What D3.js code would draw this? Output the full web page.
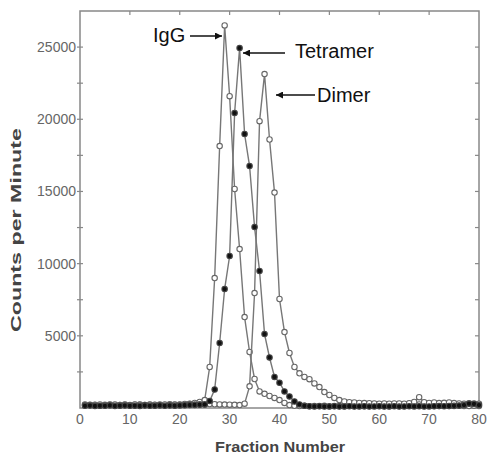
<!DOCTYPE html>
<html>
<head>
<meta charset="utf-8">
<script src="https://cdn.jsdelivr.net/npm/d3@7"></script>
<style>
  body { margin: 0; background: #fff; }
  svg { display: block; }
  .tick-label { font-family: Arial, "Liberation Sans", sans-serif; font-size: 14px; fill: #666; }
  .axis-title { font-family: Arial, "Liberation Sans", sans-serif; font-size: 14px; font-weight: bold; fill: #444; }
  .note { font-family: Arial, "Liberation Sans", sans-serif; font-size: 20px; fill: #111; }
</style>
</head>
<body>
<svg id="chart" width="489" height="454"></svg>
<script>
// fraction numbers 1..80
const fractions = d3.range(1, 81);

// counts per minute, one value per fraction
const igg = [
  250, 200, 230, 180, 220, 250, 200, 210, 240, 190,
  220, 250, 200, 230, 210, 240, 200, 260, 230, 250,
  280, 300, 350, 420, 550, 2840, 9000, 18140, 26500, 21600,
  15170, 11010, 6300, 3880, 2010, 1150, 980, 830, 700, 550,
  350, 200, 150, 130, 150, 120, 140, 130, 150, 120,
  140, 130, 120, 150, 130, 140, 120, 130, 150, 140,
  130, 120, 150, 140, 130, 150, 200, 250, 180, 150,
  140, 130, 150, 140, 130, 150, 140, 130, 150, 140
];
const tetramer = [
  150, 170, 140, 160, 150, 180, 140, 160, 170, 150,
  160, 140, 170, 150, 160, 180, 150, 170, 160, 180,
  190, 200, 210, 230, 250, 480, 1280, 4500, 8240, 10530,
  20430, 24930, 18980, 16760, 12530, 9490, 5120, 3500, 2150, 1750,
  1150, 800, 450, 250, 150, 120, 110, 120, 100, 110,
  120, 100, 110, 120, 100, 110, 120, 100, 110, 120,
  100, 110, 120, 100, 110, 120, 110, 120, 100, 110,
  120, 130, 120, 140, 150, 170, 200, 300, 280, 200
];
const dimer = [
  200, 230, 210, 250, 190, 220, 240, 200, 230, 210,
  250, 220, 200, 240, 230, 210, 250, 220, 240, 230,
  250, 270, 240, 260, 250, 270, 260, 250, 240, 230,
  220, 200, 300, 1500, 7960, 19870, 23130, 18600, 14920, 7550,
  5260, 3810, 2840, 2400, 2150, 2000, 1700, 1450, 1100, 900,
  700, 550, 450, 400, 380, 350, 340, 330, 320, 300,
  310, 300, 320, 310, 300, 330, 420, 750, 400, 350,
  380, 340, 360, 380, 340, 320, 300, 330, 310, 300
];

const yTicks = [5000, 10000, 15000, 20000, 25000];
const yMinor = [2500, 7500, 12500, 17500, 22500];
const xTicks = [0, 10, 20, 30, 40, 50, 60, 70, 80];

let svg = d3.select("#chart");
let mLeft = 80, mRight = 479, mTop = 11, mBottom = 408;

let x = d3.scaleLinear().domain([0, 80]).range([mLeft, mRight]);
let y = d3.scaleLinear().domain([0, 27500]).range([mBottom, mTop]);

// frame
svg.append("rect")
  .attr("x", mLeft).attr("y", mTop)
  .attr("width", mRight - mLeft).attr("height", mBottom - mTop)
  .attr("fill", "none").attr("stroke", "#888").attr("stroke-width", 1.5);

// left axis ticks + labels
let allY = yTicks.concat(yMinor);
svg.selectAll(".ytick").data(allY).join("line")
  .attr("class", "ytick")
  .attr("x1", mLeft - 3).attr("x2", mLeft + 3)
  .attr("y1", d => y(d)).attr("y2", d => y(d))
  .attr("stroke", "#888").attr("stroke-width", 1.2);
svg.selectAll(".ylab").data(yTicks).join("text")
  .attr("class", "tick-label ylab")
  .attr("x", mLeft - 4)
  .attr("y", d => y(d) + 5)
  .attr("text-anchor", "end")
  .text(d => d);

// right axis ticks (inward)
svg.selectAll(".rtick").data(allY).join("line")
  .attr("class", "rtick")
  .attr("x1", mRight - 4).attr("x2", mRight)
  .attr("y1", d => y(d)).attr("y2", d => y(d))
  .attr("stroke", "#888").attr("stroke-width", 1.2);

// top ticks (inward)
svg.selectAll(".ttick").data(xTicks.slice(1, -1)).join("line")
  .attr("class", "ttick")
  .attr("x1", d => x(d)).attr("x2", d => x(d))
  .attr("y1", mTop).attr("y2", mTop + 4)
  .attr("stroke", "#888").attr("stroke-width", 1.2);

// bottom labels
svg.selectAll(".xlab").data(xTicks).join("text")
  .attr("class", "tick-label xlab")
  .attr("x", d => x(d))
  .attr("y", 424)
  .attr("text-anchor", "middle")
  .text(d => d);

// axis titles
svg.append("text")
  .attr("class", "axis-title")
  .attr("x", 280).attr("y", 452)
  .attr("text-anchor", "middle")
  .attr("textLength", 130).attr("lengthAdjust", "spacingAndGlyphs")
  .text("Fraction Number");
svg.append("text")
  .attr("class", "axis-title")
  .style("font-size", "15px")
  .attr("transform", "translate(21,230) rotate(-90)")
  .attr("text-anchor", "middle")
  .attr("textLength", 204).attr("lengthAdjust", "spacingAndGlyphs")
  .text("Counts per Minute");

// series
let line = d3.line().x((d, i) => x(fractions[i])).y(d => y(d));

function drawSeries(values, filled) {
  let g = svg.append("g");
  g.append("path")
    .datum(values)
    .attr("d", line)
    .attr("fill", "none")
    .attr("stroke", "#777")
    .attr("stroke-width", 1.4);
  g.selectAll("circle").data(values).join("circle")
    .attr("cx", (d, i) => x(fractions[i]))
    .attr("cy", d => y(d))
    .attr("r", 2.7)
    .attr("fill", filled ? "#111" : "#fff")
    .attr("stroke", filled ? "#444" : "#666")
    .attr("stroke-width", 1.1);
}
drawSeries(igg, false);
drawSeries(dimer, false);
drawSeries(tetramer, true);

// annotations
svg.append("defs").append("marker")
  .attr("id", "head")
  .attr("viewBox", "0 0 10 10")
  .attr("refX", 10).attr("refY", 5)
  .attr("markerWidth", 7).attr("markerHeight", 7)
  .attr("markerUnits", "userSpaceOnUse")
  .attr("orient", "auto")
  .append("path").attr("d", "M0,0 L10,5 L0,10 Z").attr("fill", "#111");

const notes = [
  { label: "IgG", tx: 153, ty: 42, x1: 190, x2: 222, ya: 36 },
  { label: "Tetramer", tx: 295, ty: 58, x1: 285, x2: 243, ya: 53 },
  { label: "Dimer", tx: 317, ty: 102, x1: 315, x2: 276, ya: 95 }
];
notes.forEach(n => {
  svg.append("text").attr("class", "note")
    .attr("x", n.tx).attr("y", n.ty).text(n.label);
  svg.append("line")
    .attr("x1", n.x1).attr("x2", n.x2)
    .attr("y1", n.ya).attr("y2", n.ya)
    .attr("stroke", "#111").attr("stroke-width", 1.5)
    .attr("marker-end", "url(#head)");
});
</script>
</body>
</html>
